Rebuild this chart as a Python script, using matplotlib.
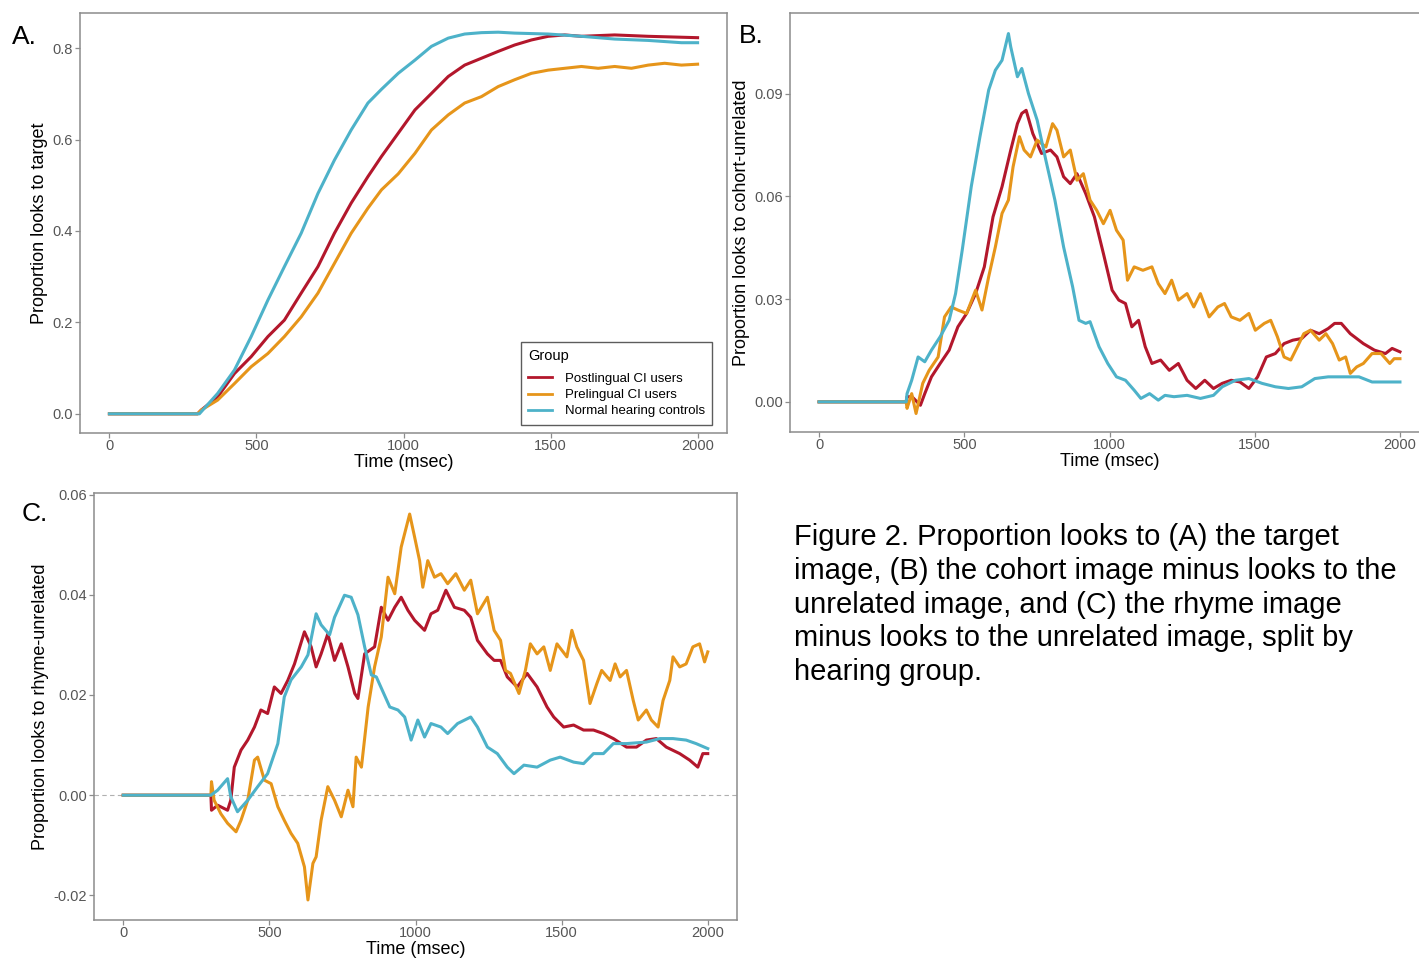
import matplotlib
matplotlib.use("Agg")
import matplotlib.pyplot as plt

plt.rcParams['font.family'] = ['Liberation Sans', 'DejaVu Sans']

groups = ["Postlingual CI users", "Prelingual CI users", "Normal hearing controls"]
colors = ["#B3172C", "#E6951A", "#4DB2C9"]

# Panel A: proportion looks to target
a_post_t = [0, 300, 312, 368, 425, 482, 539, 595, 652, 709, 765, 822, 879, 925, 982, 1039, 1095,
            1152, 1208, 1265, 1322, 1378, 1435, 1492, 1548, 1605, 1718, 1832, 2000]
a_post = [0, 0, 0.008, 0.037, 0.088, 0.125, 0.169, 0.205, 0.264, 0.322, 0.395, 0.461, 0.519, 0.563,
          0.614, 0.665, 0.701, 0.738, 0.763, 0.778, 0.793, 0.807, 0.818, 0.826, 0.829, 0.826, 0.829,
          0.826, 0.823]
a_pre_t = [0, 300, 312, 368, 425, 482, 539, 595, 652, 709, 765, 822, 879, 925, 982, 1039, 1095, 1152,
           1208, 1265, 1322, 1378, 1435, 1492, 1548, 1605, 1662, 1718, 1775, 1832, 1888, 1945, 2000]
a_pre = [0, 0, 0.008, 0.03, 0.066, 0.103, 0.132, 0.169, 0.212, 0.264, 0.329, 0.395, 0.45, 0.49,
         0.525, 0.57, 0.621, 0.654, 0.680, 0.694, 0.716, 0.731, 0.745, 0.752, 0.756, 0.760, 0.756,
         0.760, 0.756, 0.763, 0.767, 0.763, 0.765]
a_norm_t = [0, 300, 306, 368, 425, 482, 539, 595, 652, 709, 765, 822, 879, 925, 982, 1039, 1095, 1152,
            1208, 1265, 1322, 1378, 1492, 1605, 1718, 1832, 1945, 2000]
a_norm = [0, 0, 0, 0.0445, 0.0956, 0.169, 0.249, 0.322, 0.395, 0.482, 0.555, 0.621, 0.68, 0.71, 0.745,
          0.774, 0.804, 0.822, 0.831, 0.834, 0.835, 0.833, 0.831, 0.826, 0.820, 0.817, 0.812, 0.812]

# Panel B: cohort minus unrelated
b_post_t = [0, 300, 303, 320, 349, 364, 387, 417, 448, 478, 508, 539, 569, 599, 630, 660, 683, 698,
            713, 736, 766, 797, 819, 842, 865, 888, 918, 948, 979, 1009, 1032, 1055, 1077, 1100, 1123,
            1146, 1176, 1206, 1237, 1267, 1297, 1328, 1358, 1388, 1419, 1449, 1480, 1510, 1540, 1571,
            1601, 1631, 1662, 1692, 1722, 1753, 1775, 1798, 1829, 1874, 1912, 1950, 1973, 2000]
b_post = [0, 0, 0.0015, 0.0015, -0.001, 0.0024, 0.0073, 0.0112, 0.0151, 0.0219, 0.0258, 0.0316,
          0.0394, 0.054, 0.0628, 0.0735, 0.0812, 0.0842, 0.0851, 0.0783, 0.0725, 0.0735, 0.0715,
          0.0657, 0.0637, 0.0666, 0.0608, 0.054, 0.0433, 0.0326, 0.0297, 0.0287, 0.0219, 0.0238,
          0.0161, 0.0112, 0.0122, 0.0092, 0.0112, 0.0063, 0.0039, 0.0063, 0.0039, 0.0054, 0.0063,
          0.0058, 0.0039, 0.0073, 0.0131, 0.0141, 0.017, 0.018, 0.0185, 0.0209, 0.0199, 0.0214,
          0.0229, 0.0229, 0.0199, 0.017, 0.0151, 0.0141, 0.0156, 0.0146]
b_pre_t = [0, 300, 303, 319, 334, 357, 379, 410, 432, 455, 478, 508, 539, 561, 584, 607, 630, 652, 668,
           690, 706, 728, 751, 781, 804, 819, 842, 865, 888, 910, 933, 956, 979, 1002, 1024, 1047,
           1062, 1085, 1115, 1146, 1168, 1191, 1214, 1237, 1267, 1290, 1313, 1343, 1373, 1396, 1419,
           1449, 1480, 1502, 1533, 1555, 1578, 1601, 1624, 1647, 1669, 1692, 1722, 1745, 1768, 1791,
           1813, 1829, 1851, 1874, 1904, 1935, 1965, 1980, 2000]
b_pre = [0, 0, -0.0019, 0.0024, -0.0034, 0.0054, 0.0092, 0.0131, 0.0248, 0.0277, 0.0268, 0.0258,
         0.0326, 0.0268, 0.0365, 0.0452, 0.055, 0.0589, 0.0686, 0.0774, 0.0735, 0.0715, 0.0764,
         0.0744, 0.0812, 0.0793, 0.0715, 0.0735, 0.0647, 0.0666, 0.0589, 0.0559, 0.052, 0.0559,
         0.0501, 0.0472, 0.0355, 0.0394, 0.0384, 0.0394, 0.0345, 0.0316, 0.0355, 0.0297, 0.0316,
         0.0277, 0.0316, 0.0248, 0.0277, 0.0287, 0.0248, 0.0238, 0.0258, 0.0209, 0.0229, 0.0238,
         0.019, 0.0131, 0.0122, 0.0161, 0.0199, 0.0209, 0.018, 0.0199, 0.017, 0.0122, 0.0131, 0.0083,
         0.0102, 0.0112, 0.0141, 0.0141, 0.0112, 0.0126, 0.0126]
b_norm_t = [0, 300, 303, 319, 341, 364, 387, 417, 448, 470, 493, 524, 554, 584, 607, 630, 652, 660, 683,
            698, 721, 751, 781, 812, 842, 873, 895, 918, 933, 964, 994, 1024, 1055, 1085, 1108, 1138,
            1168, 1191, 1222, 1267, 1313, 1358, 1388, 1434, 1480, 1525, 1571, 1616, 1662, 1707, 1753,
            1813, 1859, 1904, 1950, 2000]
b_norm = [0, 0, 0.0024, 0.0063, 0.0131, 0.0117, 0.0151, 0.019, 0.0238, 0.0316, 0.0443, 0.0628, 0.0774,
          0.091, 0.0968, 0.0997, 0.1075, 0.1036, 0.0949, 0.0973, 0.09, 0.0822, 0.0705, 0.0589, 0.0452,
          0.0336, 0.0238, 0.0229, 0.0234, 0.0161, 0.0112, 0.0073, 0.0063, 0.0034, 0.001, 0.0024,
          0.0005, 0.0019, 0.0015, 0.0019, 0.001, 0.0019, 0.0044, 0.0063, 0.0068, 0.0054, 0.0044,
          0.0039, 0.0044, 0.0068, 0.0073, 0.0073, 0.0073, 0.0058, 0.0058, 0.0058]

# Panel C: rhyme minus unrelated
c_post_t = [0, 300, 302, 323, 357, 368, 380, 403, 426, 449, 471, 494, 517, 540, 563, 586, 620, 643,
            660, 677, 700, 723, 746, 769, 792, 803, 826, 860, 883, 906, 929, 951, 974, 997, 1031, 1053,
            1076, 1104, 1133, 1167, 1189, 1212, 1246, 1269, 1291, 1314, 1348, 1382, 1416, 1450, 1473,
            1507, 1541, 1575, 1609, 1643, 1677, 1722, 1756, 1790, 1824, 1858, 1904, 1938, 1966, 1983,
            2000]
c_post = [0, 0, -0.003, -0.002, -0.003, -0.001, 0.0056, 0.009, 0.011, 0.0136, 0.017, 0.0163, 0.0216,
          0.0203, 0.0229, 0.0262, 0.0326, 0.0296, 0.0256, 0.0282, 0.0322, 0.0269, 0.0302, 0.0256,
          0.0203, 0.0193, 0.0282, 0.0296, 0.0375, 0.0349, 0.0375, 0.0395, 0.0369, 0.0349, 0.0329,
          0.0362, 0.0369, 0.0409, 0.0375, 0.0369, 0.0355, 0.0309, 0.0282, 0.0269, 0.0269, 0.0236,
          0.0216, 0.0243, 0.0216, 0.0176, 0.0156, 0.0136, 0.014, 0.013, 0.013, 0.0123, 0.0113, 0.0096,
          0.0096, 0.011, 0.0113, 0.0096, 0.0083, 0.007, 0.0056, 0.0083, 0.0083]
c_pre_t = [0, 300, 302, 311, 334, 357, 386, 403, 426, 449, 460, 483, 506, 529, 551, 574, 597, 620, 632,
           649, 660, 677, 700, 723, 746, 769, 786, 797, 815, 838, 860, 883, 906, 929, 951, 980, 997,
           1014, 1025, 1042, 1065, 1087, 1110, 1138, 1167, 1189, 1212, 1246, 1269, 1291, 1308, 1325,
           1354, 1376, 1393, 1416, 1439, 1461, 1484, 1518, 1535, 1552, 1575, 1597, 1620, 1637, 1666,
           1683, 1700, 1722, 1745, 1762, 1790, 1807, 1830, 1847, 1870, 1881, 1904, 1926, 1949, 1972,
           1989, 2000]
c_pre = [0, 0, 0.0027, -0.001, -0.0037, -0.0056, -0.0073, -0.005, -0.001, 0.007, 0.0076, 0.003,
         0.0023, -0.0023, -0.005, -0.0076, -0.0096, -0.0143, -0.0209, -0.0136, -0.0123, -0.005, 0.0017,
         -0.001, -0.0043, 0.001, -0.0023, 0.0076, 0.0056, 0.0176, 0.0256, 0.0316, 0.0435, 0.0402,
         0.0495, 0.0561, 0.0515, 0.0468, 0.0415, 0.0468, 0.0435, 0.0442, 0.0422, 0.0442, 0.0409,
         0.0429, 0.0362, 0.0395, 0.0329, 0.0309, 0.0249, 0.0243, 0.0203, 0.0249, 0.0302, 0.0282,
         0.0296, 0.0249, 0.0302, 0.0276, 0.0329, 0.0296, 0.0269, 0.0183, 0.0222, 0.0249, 0.0229,
         0.0262, 0.0236, 0.0249, 0.0189, 0.015, 0.017, 0.015, 0.0136, 0.0189, 0.0229, 0.0276, 0.0256,
         0.0262, 0.0296, 0.0302, 0.0266, 0.0286]
c_norm_t = [0, 300, 323, 357, 368, 391, 426, 460, 494, 529, 551, 574, 609, 632, 660, 677, 706, 723, 757,
            780, 803, 826, 849, 866, 912, 940, 963, 985, 1008, 1031, 1053, 1087, 1110, 1144, 1189, 1212,
            1246, 1280, 1314, 1337, 1371, 1416, 1461, 1495, 1541, 1575, 1609, 1643, 1677, 1722, 1790,
            1836, 1881, 1926, 1960, 2000]
c_norm = [0, 0, 0.001, 0.0033, -0.0003, -0.0033, -0.001, 0.0017, 0.0043, 0.0103, 0.0196, 0.023,
          0.0256, 0.028, 0.0362, 0.034, 0.032, 0.0355, 0.0399, 0.0395, 0.036, 0.0296, 0.024, 0.0236,
          0.0176, 0.017, 0.0156, 0.011, 0.015, 0.0116, 0.0143, 0.0136, 0.0123, 0.0143, 0.0156, 0.0136,
          0.0096, 0.0083, 0.0056, 0.0043, 0.006, 0.0056, 0.007, 0.0076, 0.0066, 0.0063, 0.0083,
          0.0083, 0.0103, 0.0103, 0.0106, 0.0113, 0.0113, 0.011, 0.0103, 0.0093]

x_ticks = [0, 500, 1000, 1500, 2000]
a_yticks = [0.0, 0.2, 0.4, 0.6, 0.8]
a_ylabels = ["0.0", "0.2", "0.4", "0.6", "0.8"]
b_yticks = [0.0, 0.03, 0.06, 0.09]
b_ylabels = ["0.00", "0.03", "0.06", "0.09"]
c_yticks = [-0.02, 0.0, 0.02, 0.04, 0.06]
c_ylabels = ["-0.02", "0.00", "0.02", "0.04", "0.06"]

caption = ["Figure 2. Proportion looks to (A) the target",
           "image, (B) the cohort image minus looks to the",
           "unrelated image, and (C) the rhyme image",
           "minus looks to the unrelated image, split by",
           "hearing group."]

W, H = 1419, 960
fig = plt.figure(figsize=(W / 100, H / 100), dpi=100)


def px_axes(left, top, right, bottom):
    return fig.add_axes([left / W, 1 - bottom / H, (right - left) / W, (bottom - top) / H])


def style(ax, ylim, yticks, ylabels, ylabel):
    ax.set_xlim(-100, 2100)
    ax.set_ylim(*ylim)
    ax.set_xticks(x_ticks)
    ax.set_xticklabels([str(t) for t in x_ticks])
    ax.set_yticks(yticks)
    ax.set_yticklabels(ylabels)
    for s in ax.spines.values():
        s.set_color("#8C8C8C")
        s.set_linewidth(1.1)
    ax.tick_params(length=3.5, width=0.9, color="#8C8C8C", labelcolor="#555555",
                   labelsize=10.5, pad=1.5)
    ax.tick_params(axis="x", pad=0.5)
    ax.set_xlabel("Time (msec)", fontsize=13, labelpad=1)
    ax.set_ylabel(ylabel, fontsize=13, labelpad=3)


def draw(ax, series):
    for (t, v), c, g in zip(series, colors, groups):
        ax.plot(t, v, color=c, lw=2.2, label=g, solid_joinstyle="round")


axA = px_axes(80, 13, 727, 433)
draw(axA, [(a_post_t, a_post), (a_pre_t, a_pre), (a_norm_t, a_norm)])
style(axA, (-0.042, 0.877), a_yticks, a_ylabels, "Proportion looks to target")
leg = axA.legend(title="Group", loc="lower right", bbox_to_anchor=(0.977, 0.02),
                 borderaxespad=0, fontsize=9.5, title_fontsize=10.5, frameon=True,
                 fancybox=False, handlelength=1.8, handletextpad=1.0, labelspacing=0.3,
                 borderpad=0.55, alignment="left")
leg._legend_box.sep = 7
leg.get_frame().set_edgecolor("#333333")
leg.get_frame().set_linewidth(1.0)
for line in leg.get_lines():
    line.set_linewidth(2.0)

axB = px_axes(790, 13, 1429, 432)
draw(axB, [(b_post_t, b_post), (b_pre_t, b_pre), (b_norm_t, b_norm)])
style(axB, (-0.0088, 0.1135), b_yticks, b_ylabels, "Proportion looks to cohort-unrelated")

axC = px_axes(94, 493, 737, 920)
axC.axhline(0, color="#B0B0B0", lw=0.8, ls=(0, (4, 3)), zorder=0)
draw(axC, [(c_post_t, c_post), (c_pre_t, c_pre), (c_norm_t, c_norm)])
style(axC, (-0.0249, 0.0603), c_yticks, c_ylabels, "Proportion looks to rhyme-unrelated")

fig.text(12 / W, 1 - 37 / H, "A.", fontsize=19, va="center", ha="left")
fig.text(739 / W, 1 - 36 / H, "B.", fontsize=19, va="center", ha="left")
fig.text(22 / W, 1 - 514 / H, "C.", fontsize=19, va="center", ha="left")

for i, line in enumerate(caption):
    fig.text(794 / W, 1 - (545 + 33.8 * i) / H, line, fontsize=21, va="baseline", ha="left")

fig.savefig("out.png", dpi=100)
